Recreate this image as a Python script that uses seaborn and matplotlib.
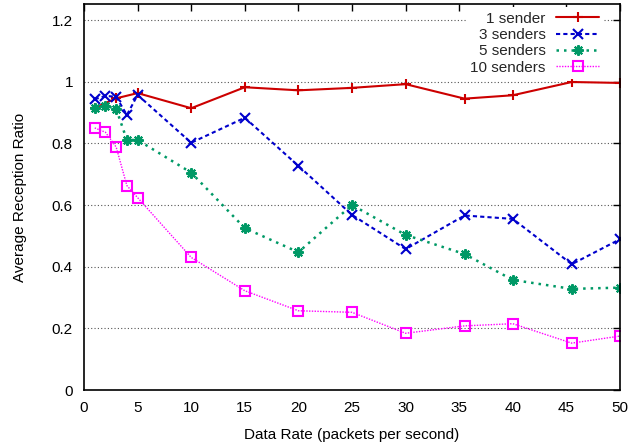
import matplotlib
matplotlib.use("Agg")
import matplotlib.pyplot as plt
import seaborn as sns
import pandas as pd

rates = [1, 2, 3, 4, 5, 10, 15, 20, 25, 30, 35.5, 40, 45.5, 50]
rates_1 = [1, 3, 5, 10, 15, 20, 25, 30, 35.5, 40, 45.5, 50]
one_sender = [0.915, 0.946, 0.963, 0.914, 0.982, 0.972, 0.980, 0.992, 0.945, 0.956, 0.999, 0.996]
three_senders = [0.943, 0.954, 0.951, 0.892, 0.957, 0.802, 0.883, 0.727, 0.568, 0.457, 0.566, 0.555, 0.408, 0.489]
five_senders = [0.914, 0.922, 0.912, 0.811, 0.811, 0.705, 0.525, 0.447, 0.600, 0.503, 0.441, 0.357, 0.328, 0.332]
ten_senders = [0.850, 0.836, 0.788, 0.663, 0.624, 0.430, 0.322, 0.257, 0.252, 0.184, 0.208, 0.215, 0.152, 0.175]

labels = ["1 sender", "3 senders", "5 senders", "10 senders"]
x_ticks = [0, 5, 10, 15, 20, 25, 30, 35, 40, 45, 50]
y_ticks = [0, 0.2, 0.4, 0.6, 0.8, 1.0, 1.2]
y_tick_labels = ["0", "0.2", "0.4", "0.6", "0.8", "1", "1.2"]

sns.set_theme(style="white")
plt.rcParams["font.family"] = ["Liberation Sans", "DejaVu Sans"]

fig = plt.figure(figsize=(6.29, 4.45), dpi=100)
ax = fig.add_axes([84 / 629, 1 - 390 / 445, (620 - 84) / 629, (390 - 4) / 445])

series = [
    (rates_1, one_sender, "#cc0000", "+", "-", 1.5, 7.5, "full"),
    (rates, three_senders, "#0000cc", "x", (0, (2, 1.5)), 1.5, 6.5, "full"),
    (rates, five_senders, "#009966", (8, 2, 0), (0, (1, 2)), 1.8, 7.5, "full"),
    (rates, ten_senders, "#ff00ff", "s", (0, (1, 1)), 1.0, 6.5, "none"),
]
for (xs, ys, col, mk, ls, lw, ms, fill), lab in zip(series, labels):
    df = pd.DataFrame({"x": xs, "y": ys})
    kw = dict(marker=mk, markersize=ms, markeredgewidth=1.5, markeredgecolor=col)
    if fill == "none":
        kw["markerfacecolor"] = "none"
    sns.lineplot(data=df, x="x", y="y", ax=ax, color=col, linestyle=ls,
                 linewidth=lw, label=lab, **kw)

ax.set_xlim(0, 50)
ax.set_ylim(0, 1.252)
ax.set_xticks(x_ticks)
ax.set_xticklabels([str(t) for t in x_ticks])
ax.set_yticks(y_ticks)
ax.set_yticklabels(y_tick_labels)
ax.tick_params(direction="in", length=5, width=1, top=True, right=True,
               labelsize=11, pad=8, colors="black")
ax.yaxis.grid(True, linestyle=(0, (1, 2)), color="#555555", linewidth=0.8)
ax.xaxis.grid(False)
for s in ax.spines.values():
    s.set_color("black")
    s.set_linewidth(1.2)

ax.set_xlabel("Data Rate (packets per second)", fontsize=11, labelpad=9, color="black")
ax.set_ylabel("Average Reception Ratio", fontsize=11, labelpad=18, color="black")

leg = ax.legend(loc="upper right", bbox_to_anchor=(0.975, 1.0), markerfirst=False,
                frameon=True, fancybox=False, framealpha=1, facecolor="white",
                edgecolor="white", fontsize=11, handlelength=2.8, handletextpad=0.7,
                labelspacing=0.15, borderpad=0.3, borderaxespad=0.2)
leg.get_frame().set_linewidth(0)

fig.savefig("out.png", dpi=100)
